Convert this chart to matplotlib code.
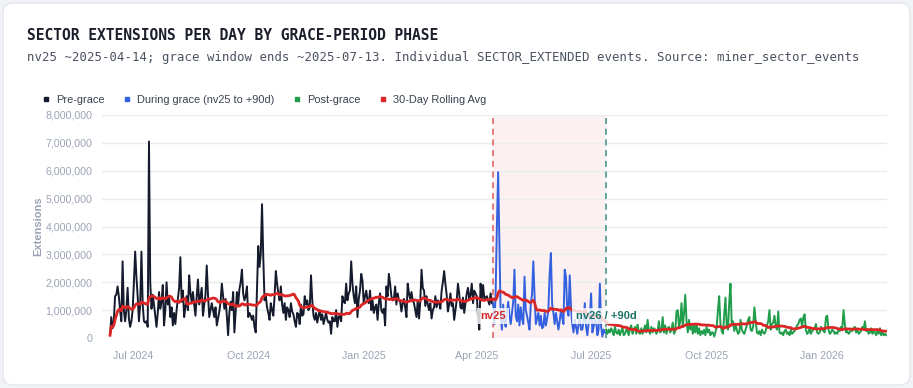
import matplotlib
matplotlib.use("Agg")
import matplotlib.pyplot as plt
import matplotlib.ticker as mticker
from matplotlib.patches import FancyBboxPatch
from matplotlib.lines import Line2D
import pandas as pd

# ---------------- data (millions of extensions per day) ----------------
NV25_DATE = "2025-04-14"
NV26_DATE = "2025-07-13"

pre_grace = [
    0.1, 0.75, 0.35, 0.6, 1.5, 1.55, 1.85, 1.5, 1.0, 0.6,
    2.75, 1.0, 0.6, 1.0, 1.8, 0.7, 0.4, 0.6, 1.0, 2.0,
    3.1, 2.2, 1.5, 0.6, 1.2, 3.1, 1.2, 0.6, 0.55, 0.6,
    0.4, 7.05, 2.0, 1.05, 1.55, 1.2, 0.8, 0.4, 0.9, 1.65,
    1.05, 1.3, 1.9, 0.45, 1.0, 2.0, 1.2, 1.5, 0.75, 1.1,
    0.45, 0.9, 0.5, 1.0, 1.4, 1.8, 2.9, 1.3, 1.7, 0.75,
    1.1, 1.5, 1.0, 2.25, 1.6, 1.3, 1.65, 1.2, 0.8, 1.5,
    2.1, 1.2, 1.5, 1.8, 0.8, 1.2, 1.55, 2.6, 1.55, 0.75,
    1.0, 1.25, 1.0, 0.75, 1.1, 0.45, 0.7, 0.95, 1.3, 1.95,
    1.5, 1.05, 1.4, 0.8, 0.1, 0.9, 1.3, 1.0, 1.65, 0.2,
    0.9, 1.65, 1.2, 1.75, 2.0, 2.45, 1.6, 1.35, 1.5, 1.85,
    0.75, 0.9, 0.8, 0.65, 0.8, 0.4, 0.2, 1.7, 3.3, 2.55,
    3.0, 4.8, 2.9, 1.35, 1.5, 1.1, 0.9, 0.65, 1.25, 1.0,
    0.8, 1.5, 2.4, 1.95, 1.6, 1.35, 1.85, 1.2, 0.9, 1.25,
    0.65, 1.1, 1.0, 0.75, 1.25, 0.95, 0.85, 0.6, 0.4, 0.9,
    0.85, 0.5, 1.2, 0.8, 0.85, 1.5, 1.2, 1.35, 1.0, 1.1,
    2.25, 1.35, 0.8, 0.65, 0.9, 0.55, 0.8, 1.0, 0.65, 0.85,
    0.5, 0.7, 0.9, 0.65, 0.55, 0.6, 0.15, 0.75, 0.6, 0.6,
    1.0, 0.4, 0.75, 0.8, 0.6, 1.5, 1.3, 1.25, 1.95, 1.35,
    1.6, 1.7, 2.75, 1.95, 1.5, 1.25, 1.85, 0.75, 1.4, 1.7,
    2.3, 2.05, 1.25, 1.5, 1.7, 1.35, 1.25, 1.7, 1.0, 1.35,
    0.9, 1.1, 1.2, 0.65, 1.25, 1.6, 1.0, 0.9, 1.05, 0.45,
    1.85, 1.5, 2.3, 1.95, 1.5, 1.35, 1.4, 1.85, 1.2, 1.6,
    1.35, 1.3, 0.95, 1.25, 1.4, 1.1, 0.75, 1.95, 1.6, 1.4,
    1.65, 1.35, 1.25, 1.0, 0.75, 1.35, 0.7, 1.3, 2.45, 1.8,
    1.7, 1.15, 1.5, 1.2, 1.0, 1.25, 0.7, 1.0, 1.1, 1.5,
    1.1, 1.35, 1.25, 1.05, 1.7, 2.0, 2.4, 1.95, 1.55, 0.95,
    1.2, 1.6, 1.15, 1.25, 0.65, 1.0, 1.35, 1.95, 1.6, 1.1,
    1.05, 1.45, 0.9, 1.25, 1.6, 1.8, 1.4, 1.55, 1.95, 1.25,
    1.7, 1.6, 1.5, 0.75, 0.3, 1.95, 1.4, 1.9, 1.4, 1.45,
    1.5, 1.35, 1.2, 1.6, 1.25,
]

during_grace = [
    1.25, 0.5, 1.6, 4.0, 5.95, 3.4, 0.8, 0.3, 1.2, 0.6,
    0.4, 0.9, 1.3, 0.8, 0.5, 0.9, 1.3, 2.45, 0.8, 0.6,
    1.2, 0.45, 1.1, 0.7, 0.5, 2.2, 1.0, 0.8, 0.55, 0.3,
    1.2, 1.6, 2.75, 1.5, 0.5, 0.7, 0.9, 0.45, 0.8, 0.35,
    0.4, 0.9, 0.45, 0.7, 1.0, 2.3, 3.05, 1.2, 0.9, 0.5,
    0.9, 0.6, 0.3, 0.6, 1.0, 0.75, 0.5, 2.45, 2.2, 1.0,
    0.8, 2.25, 1.1, 0.5, 0.2, 0.65, 0.4, 0.15, 0.5, 0.75,
    0.3, 0.3, 0.6, 1.25, 0.4, 0.1, 0.5, 0.75, 1.6, 0.2,
    0.4, 0.65, 0.6, 0.1, 0.3, 1.95, 0.4, 0.05, 0.3, 0.2,
]

post_grace = [
    0.3, 0.15, 0.3, 0.2, 0.35, 0.25, 0.1, 0.4, 0.2, 0.15,
    0.3, 0.1, 0.25, 0.35, 0.1, 0.15, 0.3, 0.25, 0.1, 0.35,
    0.45, 0.15, 0.3, 0.4, 0.15, 0.5, 0.2, 0.15, 0.35, 0.15,
    0.3, 0.45, 0.2, 0.65, 0.25, 0.15, 0.4, 0.2, 0.35, 0.3,
    0.15, 0.25, 0.6, 0.2, 0.25, 0.75, 0.2, 0.45, 0.15, 0.35,
    0.4, 0.2, 0.3, 0.55, 0.15, 0.25, 0.95, 1.0, 0.4, 0.6,
    1.25, 0.4, 0.9, 1.55, 0.6, 0.2, 0.65, 0.3, 0.5, 0.15,
    0.45, 0.2, 0.5, 0.15, 0.35, 0.1, 0.25, 0.15, 0.3, 0.1,
    0.4, 0.2, 0.3, 0.1, 0.2, 0.2, 0.05, 0.2, 0.4, 1.0,
    1.5, 0.5, 0.25, 0.15, 0.85, 1.45, 0.4, 0.3, 1.3, 1.95,
    0.45, 0.6, 0.25, 0.5, 0.3, 0.15, 0.2, 0.65, 0.3, 0.2,
    0.15, 0.3, 0.45, 0.65, 0.75, 0.3, 0.25, 0.4, 1.1, 0.65,
    0.2, 0.15, 0.25, 0.1, 0.3, 0.2, 0.15, 0.25, 0.45, 0.6,
    1.0, 0.3, 0.5, 0.55, 0.8, 0.4, 0.3, 0.95, 0.2, 0.15,
    0.2, 0.1, 0.25, 0.3, 0.15, 0.2, 0.1, 0.3, 0.15, 0.2,
    0.25, 0.35, 0.45, 0.5, 0.65, 0.7, 0.4, 0.75, 0.85, 0.3,
    0.15, 0.2, 0.35, 0.15, 0.25, 0.3, 0.35, 0.5, 0.2, 0.15,
    0.2, 0.4, 0.3, 0.25, 0.2, 0.75, 0.8, 0.3, 0.15, 0.2,
    0.3, 0.25, 0.15, 0.2, 0.15, 0.3, 0.25, 0.4, 0.35, 1.0,
    0.5, 0.2, 0.25, 0.15, 0.2, 0.3, 0.25, 0.35, 0.4, 0.2,
    0.3, 0.15, 0.2, 0.25, 0.4, 0.3, 0.6, 0.25, 0.3, 0.15,
    0.2, 0.35, 0.15, 0.25, 0.2, 0.1, 0.3, 0.15, 0.35, 0.1,
    0.2, 0.1, 0.15, 0.1,
]

y_ticks = [0, 1_000_000, 2_000_000, 3_000_000, 4_000_000,
           5_000_000, 6_000_000, 7_000_000, 8_000_000]
x_tick_dates = ["2024-07-01", "2024-10-01", "2025-01-01", "2025-04-01",
                "2025-07-01", "2025-10-01", "2026-01-01"]
x_tick_labels = ["Jul 2024", "Oct 2024", "Jan 2025", "Apr 2025",
                 "Jul 2025", "Oct 2025", "Jan 2026"]

TITLE = "SECTOR EXTENSIONS PER DAY BY GRACE-PERIOD PHASE"
SUBTITLE = ("nv25 ~2025-04-14; grace window ends ~2025-07-13. "
            "Individual SECTOR_EXTENDED events. Source: miner_sector_events")

# ---------------- build series ----------------
nv25 = pd.Timestamp(NV25_DATE)
nv26 = pd.Timestamp(NV26_DATE)
pre_idx = pd.date_range(end=nv25 - pd.Timedelta(days=1), periods=len(pre_grace), freq="D")
gr_idx = pd.date_range(start=nv25, periods=len(during_grace), freq="D")
po_idx = pd.date_range(start=nv26, periods=len(post_grace), freq="D")

s_pre = pd.Series(pre_grace, index=pre_idx) * 1e6
s_gr = pd.Series(during_grace, index=gr_idx) * 1e6
s_po = pd.Series(post_grace, index=po_idx) * 1e6
s_all = pd.concat([s_pre, s_gr, s_po])
rolling = s_all.rolling(30, min_periods=1).mean()

# ---------------- figure ----------------
W, H = 913, 388
fig = plt.figure(figsize=(W / 100, H / 100), dpi=100)
fig.patch.set_facecolor("#f1f3f6")
card = FancyBboxPatch((0.03, 0.03), W / 100 - 0.06, H / 100 - 0.06,
                      boxstyle="round,pad=0,rounding_size=0.1",
                      transform=fig.dpi_scale_trans, fc="white",
                      ec="#e3e6eb", lw=1.0, zorder=-10)
fig.add_artist(card)

sans = ["Liberation Sans", "DejaVu Sans"]
mono = ["DejaVu Sans Mono"]

fig.text(27 / W, 1 - 35 / H, TITLE, family=mono, weight="bold",
         fontsize=10.5, color="#1c1f2b", va="center", ha="left")
fig.text(27 / W, 1 - 57 / H, SUBTITLE, family=mono,
         fontsize=8.95, color="#4a5260", va="center", ha="left")

ax = fig.add_axes([102 / W, 50 / H, 785 / W, 223 / H])
ax.set_zorder(1)
ax.set_facecolor("none")

ax.axvspan(nv25, nv26, color="#dc2626", alpha=0.065, lw=0, zorder=0)
ax.plot(s_pre.index, s_pre.values, color="#151b2d", lw=1.4, zorder=3)
ax.plot(s_gr.index, s_gr.values, color="#3461df", lw=1.4, zorder=3)
ax.plot(s_po.index, s_po.values, color="#1f9d4a", lw=1.4, zorder=3)
ax.plot(rolling.index, rolling.values, color="#dc2626", lw=2.0, zorder=4)

ax.axvline(nv25, color="#e05a5a", lw=1.1, ls=(0, (4, 3)), zorder=2)
ax.axvline(nv26, color="#3a8f84", lw=1.1, ls=(0, (4, 3)), zorder=2)

ax.text(nv25, 0.79e6, "nv25", ha="center", va="center", color="#d42a2a",
        weight="bold", fontsize=8.0, family=sans, zorder=6,
        bbox=dict(boxstyle="square,pad=0.3", fc="white", ec="none", alpha=0.8))
ax.text(nv26, 0.79e6, "nv26 / +90d", ha="center", va="center", color="#1b7266",
        weight="bold", fontsize=8.0, family=sans, zorder=6,
        bbox=dict(boxstyle="square,pad=0.3", fc="white", ec="none", alpha=0.8))

start = s_all.index[0]
ax.set_xlim(start - pd.Timedelta(days=6.4), start + pd.Timedelta(days=618.6))
ax.set_ylim(0, 8_000_000)
ax.set_yticks(y_ticks)
ax.yaxis.set_major_formatter(mticker.FuncFormatter(lambda v, p: f"{v:,.0f}"))
ax.set_xticks(pd.to_datetime(x_tick_dates))
ax.set_xticklabels(x_tick_labels)
ax.grid(axis="y", color="#e9ebef", lw=1.0, zorder=1)
ax.set_axisbelow(True)
for sp in ax.spines.values():
    sp.set_visible(False)
ax.tick_params(axis="both", length=0, labelsize=7.7, labelcolor="#9aa3b5")
ax.tick_params(axis="y", pad=7)
ax.tick_params(axis="x", pad=9.5)
for lbl in ax.get_xticklabels() + ax.get_yticklabels():
    lbl.set_family(sans)
ax.set_ylabel("Extensions", family=sans, fontsize=8.0, color="#9aa3b5",
              weight="bold")
ax.yaxis.set_label_coords(-(102 - 43) / 785, 0.5)

handles = [
    Line2D([], [], ls="none", marker="s", markersize=2.6, color="#151b2d"),
    Line2D([], [], ls="none", marker="s", markersize=2.6, color="#3461df"),
    Line2D([], [], ls="none", marker="s", markersize=2.6, color="#1f9d4a"),
    Line2D([], [], ls="none", marker="s", markersize=2.6, color="#dc2626"),
]
labels = ["Pre-grace", "During grace (nv25 to +90d)", "Post-grace", "30-Day Rolling Avg"]
leg = fig.legend(handles, labels, loc="center left",
                 bbox_to_anchor=(43 / W, 1 - 100 / H), ncol=4, frameon=False,
                 prop={"family": sans, "size": 7.9}, labelcolor="#3a4150",
                 handlelength=0.6, handletextpad=0.6, columnspacing=1.75,
                 borderpad=0, borderaxespad=0)

fig.savefig("out.png", dpi=100, facecolor=fig.get_facecolor())
